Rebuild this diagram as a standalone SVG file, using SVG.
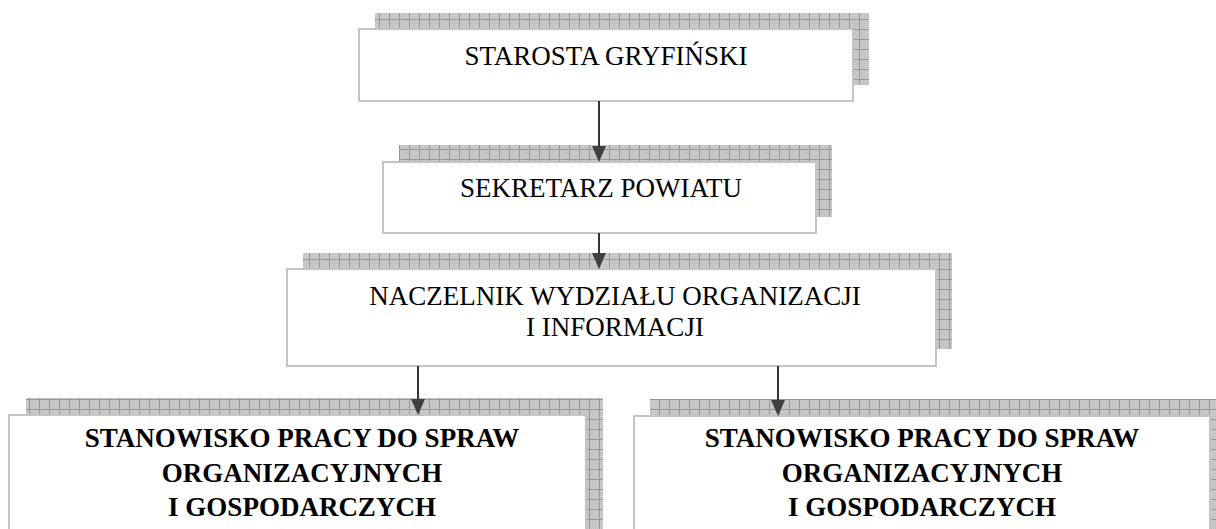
<svg xmlns="http://www.w3.org/2000/svg" width="1216" height="529" viewBox="0 0 1216 529">
<defs>
<pattern id="dither" width="2" height="2" patternUnits="userSpaceOnUse">
<rect width="2" height="2" fill="#bdbdbd"/>
<rect width="1" height="1" fill="#d0d0d0"/>
<rect x="1" y="1" width="1" height="1" fill="#d0d0d0"/>
</pattern>
<pattern id="grid" width="10" height="10" patternUnits="userSpaceOnUse">
<rect width="10" height="10" fill="url(#dither)"/>
<path d="M9.5 0V10M0 9.5H10" stroke="#979797" stroke-width="1"/>
</pattern>
</defs>
<style>
.shadow{fill:url(#grid);stroke:none}
.box{fill:#fff;stroke:#c4c4c4;stroke-width:2}
.t{font-family:"Liberation Serif","Times New Roman",serif;font-size:27px;fill:#000;text-anchor:middle}
.b{font-family:"Liberation Serif","Times New Roman",serif;font-size:27px;font-weight:bold;fill:#000;text-anchor:middle}
.line{stroke:#333;stroke-width:2;fill:none}
.head{fill:#404040}
</style>
<rect width="1216" height="529" fill="#fff"/>
<g id="starosta">
<rect class="shadow" x="375" y="13" width="494" height="72"/>
<rect class="box" x="359" y="29" width="494" height="72"/>
<text class="t" x="606" y="65">STAROSTA GRYFIŃSKI</text>
</g>
<g id="sekretarz">
<rect class="shadow" x="399" y="145" width="433" height="72"/>
<rect class="box" x="383" y="162" width="433" height="71"/>
<text class="t" x="601" y="197">SEKRETARZ POWIATU</text>
</g>
<g id="naczelnik">
<rect class="shadow" x="303" y="253" width="649" height="96"/>
<rect class="box" x="287" y="269" width="649" height="97"/>
<text class="t" x="615" y="305">NACZELNIK WYDZIAŁU ORGANIZACJI</text>
<text class="t" x="615" y="336">I INFORMACJI</text>
</g>
<g id="stanowisko-1">
<rect class="shadow" x="26" y="398" width="577" height="140"/>
<rect class="box" x="9" y="415" width="577" height="140"/>
<text class="b" x="302" y="447">STANOWISKO PRACY DO SPRAW</text>
<text class="b" x="302" y="482">ORGANIZACYJNYCH</text>
<text class="b" x="302" y="516">I GOSPODARCZYCH</text>
</g>
<g id="stanowisko-2">
<rect class="shadow" x="650" y="399" width="576" height="140"/>
<rect class="box" x="634" y="416" width="576" height="140"/>
<text class="b" x="922" y="447">STANOWISKO PRACY DO SPRAW</text>
<text class="b" x="922" y="482">ORGANIZACYJNYCH</text>
<text class="b" x="922" y="516">I GOSPODARCZYCH</text>
</g>
<g id="connectors">
<line class="line" x1="599" y1="101" x2="599" y2="148"/>
<polygon class="head" points="592,146 606,146 599,162"/>
<line class="line" x1="599" y1="233" x2="599" y2="255"/>
<polygon class="head" points="592,253 606,253 599,269"/>
<line class="line" x1="418" y1="366" x2="418" y2="401"/>
<polygon class="head" points="411,399 425,399 418,415"/>
<line class="line" x1="778" y1="366" x2="778" y2="402"/>
<polygon class="head" points="771,400 785,400 778,416"/>
</g>
</svg>
